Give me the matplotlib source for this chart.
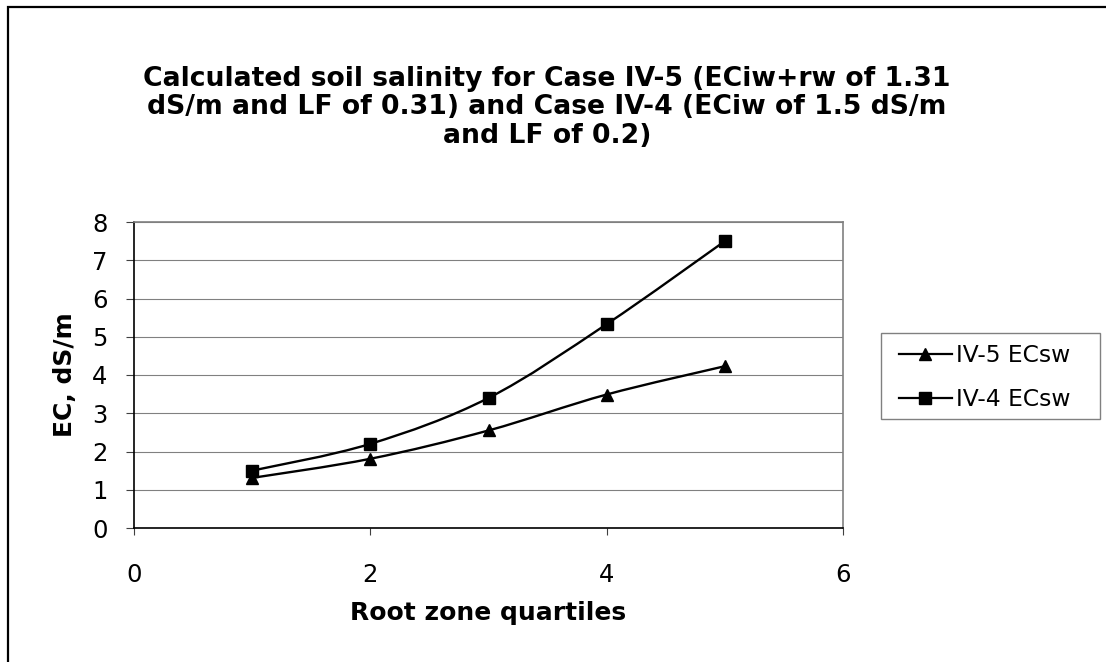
import matplotlib
matplotlib.use("Agg")
import matplotlib.pyplot as plt
import numpy as np
from matplotlib.path import Path
from matplotlib.patches import PathPatch, Rectangle
from matplotlib.lines import Line2D

plt.rcParams['font.family'] = ['DejaVu Sans']

# root zone quartile number and soil water salinity (dS/m)
quartiles = [1, 2, 3, 4, 5]
iv5_ecsw = [1.31, 1.81, 2.55, 3.49, 4.23]
iv4_ecsw = [1.5, 2.2, 3.4, 5.33, 7.5]

series_labels = ["IV-5 ECsw", "IV-4 ECsw"]
title = ("Calculated soil salinity for Case IV-5 (ECiw+rw of 1.31\n"
         "dS/m and LF of 0.31) and Case IV-4 (ECiw of 1.5 dS/m\n"
         "and LF of 0.2)")


def smooth_path(xs, ys):
    # Catmull-Rom style bezier through the points, like a spreadsheet "smoothed line"
    pts = np.column_stack([xs, ys]).astype(float)
    n = len(pts)
    verts = [pts[0]]
    codes = [Path.MOVETO]
    for i in range(n - 1):
        p0 = pts[i - 1] if i > 0 else pts[i]
        p1 = pts[i]
        p2 = pts[i + 1]
        p3 = pts[i + 2] if i + 2 < n else pts[i + 1]
        verts += [p1 + (p2 - p0) / 6, p2 - (p3 - p1) / 6, p2]
        codes += [Path.CURVE4] * 3
    return Path(verts, codes)


W, H = 1106, 662
fig = plt.figure(figsize=(W / 100, H / 100), dpi=100)
ax = fig.add_axes([134 / W, 1 - 528 / H, (843 - 134) / W, (528 - 222) / H])

for ys, mk in [(iv5_ecsw, '^'), (iv4_ecsw, 's')]:
    ax.add_patch(PathPatch(smooth_path(quartiles, ys), facecolor='none',
                           edgecolor='black', lw=1.7, zorder=3))
    ax.plot(quartiles, ys, linestyle='none', marker=mk, color='black',
            markersize=9, zorder=4, clip_on=False)

ax.set_xlim(0, 6)
ax.set_ylim(0, 8)
ax.set_xticks([0, 2, 4, 6])
ax.set_yticks(range(9))
ax.yaxis.grid(True, color='#808080', lw=0.8)
ax.set_axisbelow(True)
ax.tick_params(axis='x', direction='out', length=5, width=0.8, pad=20,
               labelsize=17.5, color='#404040')
ax.tick_params(axis='y', direction='out', length=6, width=0.8, pad=13,
               labelsize=17.5, color='#404040')
for side in ['top', 'right']:
    ax.spines[side].set_color('#808080')
    ax.spines[side].set_linewidth(1.2)
for side in ['left', 'bottom']:
    ax.spines[side].set_color('black')
    ax.spines[side].set_linewidth(1.2)

ax.set_xlabel("Root zone quartiles", fontsize=18, fontweight='bold', labelpad=10)
ax.set_ylabel("EC, dS/m", fontsize=18, fontweight='bold', labelpad=11)

fig.text(547 / W, 1 - 107.5 / H, title, ha='center', va='center',
         multialignment='center', fontsize=19.2, fontweight='bold', linespacing=1.13)

handles = [Line2D([], [], color='black', lw=1.6, marker='^', markersize=8),
           Line2D([], [], color='black', lw=1.6, marker='s', markersize=8)]
leg = fig.legend(handles, series_labels, loc='center left',
                 bbox_to_anchor=(899 / W, 1 - 378 / H), borderaxespad=0,
                 fontsize=16.8, frameon=False, handlelength=2.25,
                 handletextpad=0.2, borderpad=0, labelspacing=0.9)

# legend frame
fig.patches.append(Rectangle((881 / W, 1 - 419 / H), (1100 - 881) / W, 86 / H,
                             transform=fig.transFigure, fill=False,
                             edgecolor='#808080', lw=1.0))

# outer chart border (only the left and top edges fall inside the image)
fig.patches.append(Rectangle((8 / W, -0.1), 1.2, 1.1 - 7 / H,
                             transform=fig.transFigure, fill=False,
                             edgecolor='black', lw=1.6))

fig.savefig("out.png", dpi=100)
